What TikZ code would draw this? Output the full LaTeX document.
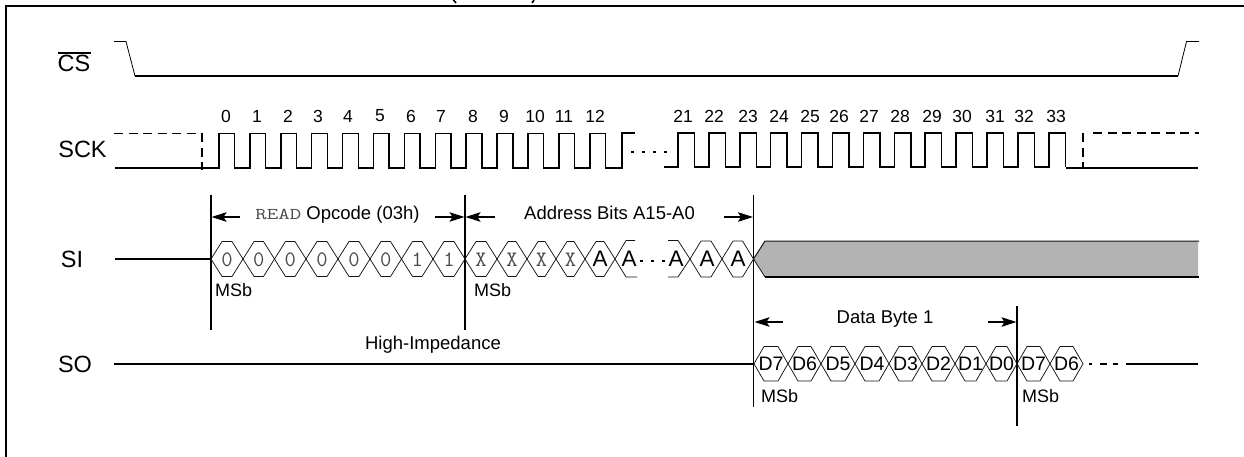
\documentclass[tikz,border=0pt]{standalone}
\usepackage{fontspec}
\setmainfont{Liberation Sans}
\usetikzlibrary{arrows.meta}
\definecolor{ink}{HTML}{141414}
\definecolor{greyfill}{HTML}{B3B3B3}
\definecolor{bittext}{HTML}{4A4A4A}
\newcommand{\fs}[1]{\fontsize{#1}{#1}\selectfont}
\newcommand{\bitfont}{\ttfamily\fs{22}}
\tikzset{
  x=1pt,y=-1pt,
  frameline/.style={draw=black,line width=2pt},
  wave/.style={draw=black,line width=1.5pt},
  wavethin/.style={draw=black,line width=0.8pt},
  dashwave/.style={draw=black,line width=1.5pt,dash pattern=on 9pt off 5.5pt},
  dotwave/.style={draw=black,line width=1.4pt,dash pattern=on 3pt off 8pt},
  marker/.style={draw=black,line width=1.6pt},
  hex/.style={draw=ink,line width=0.75pt,line join=round},
  dim/.style={draw=black,line width=1.5pt,-{Stealth[length=15pt,width=9.5pt,inset=3pt]}},
  sig/.style={inner sep=0pt,font=\fs{23.5}},
  num/.style={inner sep=0pt,font=\fs{17.5}},
  lbl/.style={inner sep=0pt,font=\fs{18.5}},
  msb/.style={inner sep=0pt,font=\fs{18},anchor=west},
  bit/.style={inner sep=0pt,text=bittext,font=\bitfont},
  addr/.style={inner sep=0pt,font=\fs{22.5}},
  data/.style={inner sep=0pt,font=\fs{19.5}},
}
% full hexagon between two crossing points
\newcommand{\hexa}[5]{% x1,x2,ytop,ybot,slant
  \pgfmathsetmacro{\ym}{(#3+#4)/2}
  \draw[hex] (#1,\ym) -- (#1+#5,#3) -- (#2-#5,#3) -- (#2,\ym) -- (#2-#5,#4) -- (#1+#5,#4) -- cycle;
}
\begin{document}
\begin{tikzpicture}
\useasboundingbox (0,0) rectangle (1244,457);
% frame
\coordinate (fbl) at (5.5,457);
\coordinate (ftl) at (5.5,6.5);
\coordinate (ftr) at (1244,6.5);
\draw[frameline] (fbl) -- (ftl) -- (ftr);
% clipped remains of the title above the frame
\draw[draw=black,line width=1.6pt] (453.5,0) -- (456,3);
\draw[draw=black,line width=1.6pt] (534,0) -- (532,3);
% signal names
\node[sig] (cs) at (74,62) {\rlap{\rule[17.6pt]{33.5pt}{1.4pt}}CS};
\node[sig] (sck) at (82.5,149.5) {SCK};
\node[sig] (si) at (72,259) {SI};
\node[sig] (so) at (75,364) {SO};
% CS
\draw[wavethin] (114,41.5) -- (126,41.5) -- (135,76);
\draw[wave] (135,76) -- (1178,76);
\draw[wavethin] (1178,76) -- (1186.5,41.5) -- (1199,41.5);
% SCK
\draw[dashwave] (114,133.5) -- (202,133.5);
\draw[dashwave] (202,133.5) -- (202,170);
\draw[wave] (115,168)
  \foreach \i in {0,...,12}{ -- ({219+30.9*\i},168) -- ({219+30.9*\i},133.5) -- ({234.7+30.9*\i},133.5) -- ({234.7+30.9*\i},168) }
  -- (622,168) -- (622,133) -- (635,133);
\draw[dotwave] (631,152) -- (672,152);
\draw[wave] (664,167) -- (678,167)
  \foreach \i in {0,...,12}{ -- ({678+30.9*\i},167) -- ({678+30.9*\i},133) -- ({694.5+30.9*\i},133) -- ({694.5+30.9*\i},167) };
\draw[wave] (1065.5,168) -- (1198,168);
\draw[dashwave] (1083,133.5) -- (1083,168);
\draw[dashwave] (1093,133) -- (1199,133);
% clock numbers
\foreach \n/\x in {0/226,1/257,2/288,3/318,4/348,5/380,6/411,7/441,8/473,9/504,10/535,11/564,12/595,21/683,22/714,23/748,24/779,25/810,26/839,27/869,28/900,29/932,30/962,31/995,32/1024,33/1056}
  \node[num] (clk\n) at (\x,116) {\n};
% markers
\coordinate (m1t) at (211,195); \coordinate (m1b) at (211,330);
\coordinate (m2t) at (465,195); \coordinate (m2b) at (465,330);
\coordinate (m3t) at (753.5,195); \coordinate (m3b) at (753.5,407);
\coordinate (m4t) at (1017,306); \coordinate (m4b) at (1017,426);
\draw[marker] (m1t) -- (m1b);
\draw[marker] (m2t) -- (m2b);
\draw[marker] (m3t) -- (m3b);
\draw[marker] (m4t) -- (m4b);
% dimension arrows
\draw[dim] (240,217) -- (211.5,217);
\draw[dim] (435,217) -- (464.5,217);
\draw[dim] (495,217) -- (465.5,217);
\draw[dim] (724,217) -- (753,217);
\draw[dim] (783,322) -- (754.5,322);
\draw[dim] (988,322) -- (1016.5,322);
\node[lbl,anchor=base] (opc) at (337.5,219) {\scalebox{1.35}[1]{\ttfamily\fs{16.5}\textcolor{bittext}{READ}} Opcode (03h)};
\node[lbl,anchor=base] (adr) at (609.5,219) {Address Bits A15-A0};
\node[lbl,anchor=base] (dby) at (885,323) {Data Byte 1};
\node[lbl,anchor=base] (hiz) at (433,349) {High-Impedance};
% SI
\draw[wave] (115,259) -- (211,259);
\foreach \a/\b/\t [count=\k] in {211/243/0,243/274.5/0,274.5/306/0,306/338/0,338/370/0,370/401.5/0,401.5/433/1,433/465/1}{
  \hexa{\a}{\b}{241.5}{276.5}{11}
  \node[bit] (si\k) at ({(\a+\b)/2},259.5) {\t};
}
\foreach \a/\b/\t [count=\k] in {465/497/X,497/527/X,527/556/X,556/585/X}{
  \hexa{\a}{\b}{241.5}{276.5}{11}
  \node[bit] (sx\k) at ({(\a+\b)/2},259.5) {\t};
}
\hexa{585}{615}{241.5}{276.5}{11}
\node[addr] (sa1) at (600,258.5) {A};
\draw[hex] (635,240.5) -- (626,240.5) -- (615,259) -- (626,277) -- (637,277);
\node[addr] (sa2) at (629,258.5) {A};
\draw[dotwave] (640,261) -- (666,261);
\draw[hex] (668,240.5) -- (678,240.5) -- (690,259) -- (678,277) -- (668,277);
\node[addr] (sa3) at (676,258.5) {A};
\hexa{690}{722}{241}{277}{11}
\node[addr] (sa4) at (707,258.5) {A};
\hexa{722}{753.5}{241}{277}{11}
\node[addr] (sa5) at (738,258.5) {A};
\fill[greyfill] (753.5,259) -- (765,241) -- (1198,241) -- (1198,277) -- (765,277) -- cycle;
\draw[draw=ink,line width=1pt] (753.5,259) -- (765,241) -- (1199,241);
\draw[draw=ink,line width=0.8pt] (753.5,259) -- (765,277);
\draw[wave] (765,277) -- (1199,277);
% SO
\draw[wave] (114,364) -- (754,364);
\foreach \a/\b/\t [count=\k] in {754/788/D7,788/821/D6,821/855/D5,855/889/D4,889/922/D3,922/955/D2,955/986/D1,986/1017/D0,1017/1050/D7,1050/1083/D6}{
  \hexa{\a}{\b}{346.5}{381}{10}
  \node[data] (sd\k) at ({(\a+\b)/2},363.5) {\t};
}
\draw[dotwave,dash pattern=on 2.5pt off 8pt on 7pt off 6pt on 5pt off 8pt] (1089,364) -- (1124,364);
\draw[wave] (1126,364) -- (1198,364);
% MSb
\node[msb] (ms1) at (215,290) {MSb};
\node[msb] (ms2) at (474,290) {MSb};
\node[msb] (ms3) at (761,396) {MSb};
\node[msb] (ms4) at (1022,396) {MSb};
\end{tikzpicture}
\end{document}
